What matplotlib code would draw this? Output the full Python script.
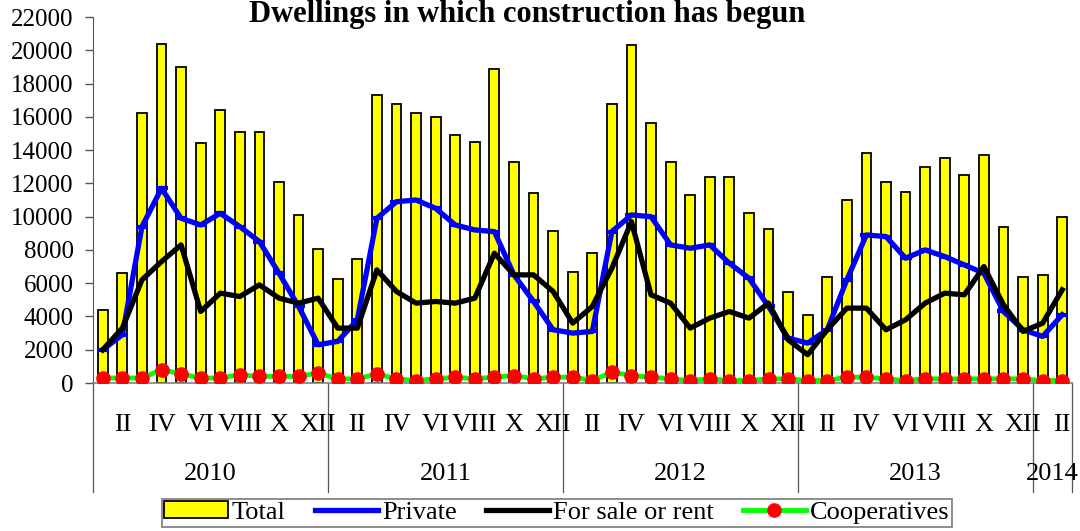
import matplotlib
matplotlib.use("Agg")
import matplotlib.pyplot as plt
import matplotlib.transforms as mtransforms
from matplotlib.patches import Patch
from matplotlib.lines import Line2D

plt.rcParams['font.family'] = ['Liberation Serif', 'DejaVu Serif']

years = ["2010", "2011", "2012", "2013", "2014"]
months_per_year = [12, 12, 12, 12, 2]
month_names = ["I", "II", "III", "IV", "V", "VI", "VII", "VIII", "IX", "X", "XI", "XII"]

total = [4400, 6600, 16200, 20400, 19000, 14400, 16400, 15100, 15100, 12100, 10100, 8050,
         6250, 7450, 17300, 16800, 16200, 16000, 14900, 14500, 18900, 13300, 11400, 9150,
         6700, 7800, 16800, 20300, 15600, 13300, 11300, 12400, 12400, 10200, 9250, 5500,
         4100, 6400, 11000, 13800, 12100, 11500, 13000, 13500, 12500, 13700, 9400, 6400,
         6500, 10000]
private = [2000, 2900, 9400, 11700, 9900, 9500, 10200, 9400, 8500, 6600, 4600, 2300,
           2500, 3800, 9900, 10900, 11000, 10500, 9500, 9200, 9100, 6500, 4900, 3200,
           3000, 3100, 9100, 10100, 10000, 8300, 8100, 8300, 7200, 6300, 4600, 2700,
           2400, 3200, 6200, 8900, 8800, 7500, 8000, 7600, 7100, 6600, 4300, 3200,
           2800, 4100]
for_sale = [2000, 3300, 6200, 7300, 8300, 4300, 5400, 5200, 5900, 5100, 4800, 5100,
            3300, 3300, 6800, 5500, 4800, 4900, 4800, 5100, 7800, 6500, 6500, 5500,
            3600, 4600, 6900, 9700, 5300, 4800, 3300, 3900, 4300, 3900, 4800, 2600,
            1700, 3200, 4500, 4500, 3200, 3800, 4800, 5400, 5300, 7000, 4700, 3100,
            3600, 5600]
coops = [300, 300, 300, 800, 550, 300, 300, 500, 400, 400, 400, 600,
         250, 250, 550, 250, 150, 250, 350, 250, 350, 450, 250, 350,
         350, 150, 650, 450, 350, 250, 150, 250, 150, 150, 250, 250,
         150, 150, 350, 350, 250, 150, 250, 250, 250, 250, 250, 250,
         150, 150]

x = list(range(len(total)))

fig = plt.figure(figsize=(10.8, 5.31), dpi=100)
ax = fig.add_axes([93 / 1080, 1 - 383 / 531, (1072 - 93) / 1080, 366 / 531])

ax.bar(x, total, width=0.5, color="#FFFF00", edgecolor="black", linewidth=1.3, zorder=2)
ax.plot(x, private, color="#0000FF", lw=3.8, marker="_", ms=9, mew=3, zorder=3)
ax.plot(x, for_sale, color="black", lw=3.8, zorder=4)
ax.plot(x, coops, color="#00FF00", lw=3.5, marker="o", ms=9.5, mfc="red", mec="red", zorder=5)

ax.set_xlim(-0.5, len(total) - 0.5)
ax.set_ylim(0, 22000)
ax.set_yticks(range(0, 22001, 2000))
ax.tick_params(axis="y", labelsize=18, length=6, width=1, color="#555555", pad=8)
ax.set_xticks([])
for s in ["top", "right"]:
    ax.spines[s].set_visible(False)
ax.spines["left"].set_color("#555555")
ax.spines["bottom"].set_color("#808080")
ax.spines["bottom"].set_linewidth(1.2)

# month and year labels under the axis
trans = mtransforms.blended_transform_factory(ax.transData, ax.transAxes)
start = 0
bounds = [-0.5]
for yr, n in zip(years, months_per_year):
    for m in range(n):
        if m % 2 == 1:
            ax.text(start + m, -0.115, month_names[m], transform=trans,
                    ha="center", va="center", fontsize=19)
    ax.text(start + (n - 1) / 2, -0.25, yr, transform=trans,
            ha="center", va="center", fontsize=19)
    start += n
    bounds.append(start - 0.5)
for b in bounds:
    ax.plot([b, b], [0, -0.298], transform=trans, color="#555555", lw=0.9, clip_on=False)

fig.text(0.488, 1 - 22 / 531, "Dwellings in which construction has begun",
         ha="center", va="baseline", fontsize=22, fontweight="bold")

handles = [Patch(facecolor="#FFFF00", edgecolor="black", linewidth=1.3),
           Line2D([], [], color="#0000FF", lw=3.8),
           Line2D([], [], color="black", lw=3.8),
           Line2D([], [], color="#00FF00", lw=3.5, marker="o", ms=9.5, mfc="red", mec="red")]
labels = ["Total", "Private", "For sale or rent", "Cooperatives"]
leg = fig.legend(handles, labels, loc="center", bbox_to_anchor=(0.5157, 0.0348), ncol=4,
                 fontsize=19, frameon=True, fancybox=False, edgecolor="#666666",
                 handlelength=2.4, handleheight=0.6, handletextpad=0.15, columnspacing=1.1,
                 borderpad=0.1, borderaxespad=0)
leg.get_frame().set_linewidth(1.3)

fig.savefig("out.png", dpi=100)
